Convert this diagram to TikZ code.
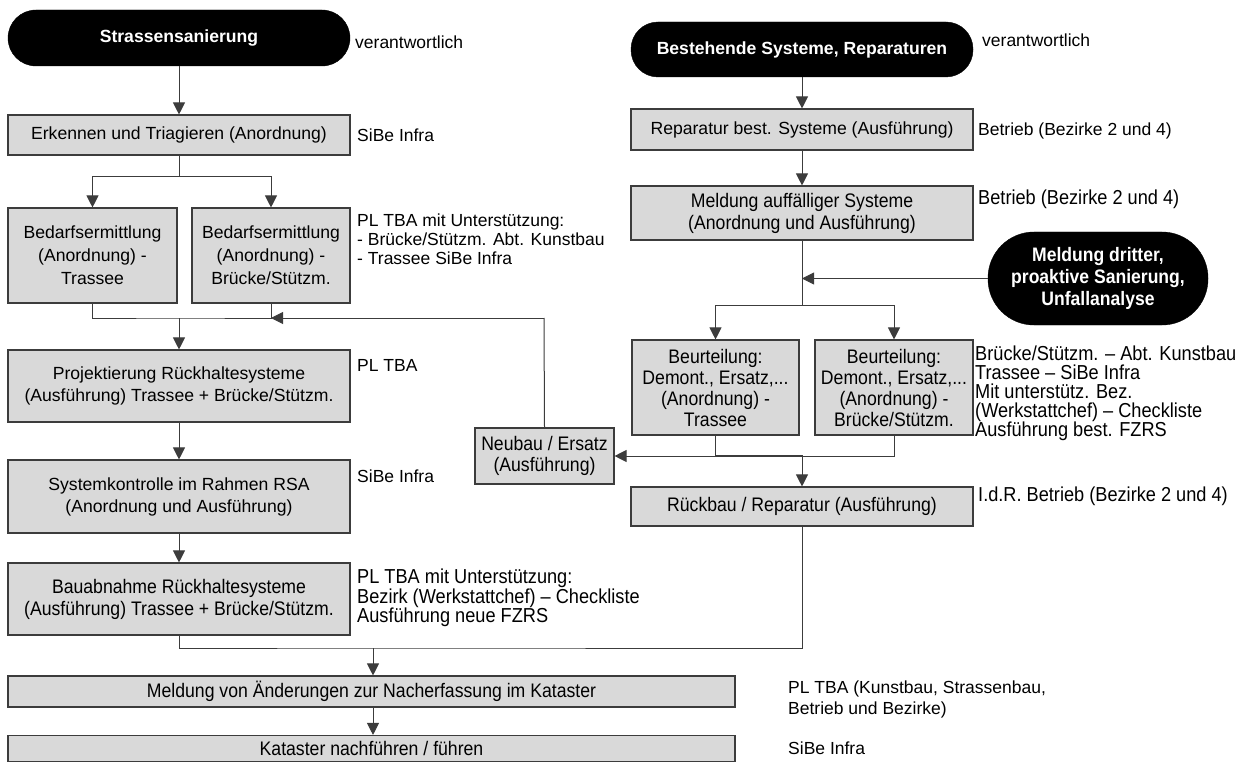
\documentclass[tikz,border=0pt]{standalone}
\usepackage{fontspec}
\setmainfont{Liberation Sans}
\newfontfamily\narrowfont[FakeStretch=0.9]{Liberation Sans}
\usetikzlibrary{arrows.meta}
\definecolor{boxfill}{RGB}{217,217,217}
\definecolor{edge}{RGB}{60,60,60}
\newcommand{\regsize}{\fontsize{17.6}{22}\selectfont}
\newcommand{\narsize}{\narrowfont\fontsize{19.6}{21}\selectfont}
\begin{document}
\begin{tikzpicture}[x=1pt,y=-1pt,
  box/.style={draw=edge, fill=boxfill, line width=1.1pt, inner sep=0pt, align=center, font=\regsize},
  nbox/.style={box, font=\narsize},
  term/.style={fill=black, draw=black, text=white, inner sep=0pt, align=center, font=\regsize\bfseries},
  conn/.style={draw=edge, line width=1pt},
  arr/.style={conn, -{Triangle[length=12pt,width=12pt]}},
  note/.style={anchor=west, align=left, inner sep=0pt, font=\fontsize{17.5}{22}\selectfont},
  nnote/.style={note, font=\narrowfont\fontsize{20.2}{19}\selectfont},
]
\useasboundingbox (0,0) rectangle (1242,762);
% left column
\node[term, rounded corners=28pt, minimum width=342pt, minimum height=56pt] (t1) at (179,38) {Strassensanierung};
\node[box, minimum width=342pt, minimum height=40pt] (b1) at (179,135) {Erkennen und Triagieren (Anordnung)};
\node[box, minimum width=169pt, minimum height=95pt, font=\fontsize{17.6}{23}\selectfont] (b2a) at (92.5,255.5) {Bedarfsermittlung\\(Anordnung) -\\Trassee};
\node[box, minimum width=158pt, minimum height=95pt, font=\fontsize{17.6}{23}\selectfont] (b2b) at (271,255.5) {Bedarfsermittlung\\(Anordnung) -\\Brücke/Stützm.};
\node[box, minimum width=342pt, minimum height=72pt] (b3) at (179,386) {Projektierung Rückhaltesysteme\\(Ausführung) Trassee + Brücke/Stützm.};
\node[box, minimum width=342pt, minimum height=73pt] (b4) at (179,496.5) {Systemkontrolle im Rahmen RSA\\(Anordnung und Ausführung)};
\node[nbox, minimum width=342pt, minimum height=72pt, font=\narrowfont\fontsize{19.6}{22}\selectfont] (b5) at (179,599) {Bauabnahme Rückhaltesysteme\\(Ausführung) Trassee + Brücke/Stützm.};
\node[nbox, minimum width=727pt, minimum height=31pt] (b6) at (371.5,691.5) {Meldung von Änderungen zur Nacherfassung im Kataster};
\node[nbox, minimum width=727pt, minimum height=26pt] (b7) at (371.5,748.5) {Kataster nachführen / führen};
% right column
\node[term, rounded corners=27pt, minimum width=342pt, minimum height=55pt] (t2) at (802,49.5) {Bestehende Systeme, Reparaturen};
\node[box, minimum width=342pt, minimum height=41pt] (r1) at (802,129.5) {Reparatur best. Systeme (Ausführung)};
\node[nbox, minimum width=342pt, minimum height=54pt, font=\narrowfont\fontsize{19.6}{22}\selectfont] (r2) at (802,213) {Meldung auffälliger Systeme\\(Anordnung und Ausführung)};
\node[term, rounded corners=46pt, minimum width=220pt, minimum height=93pt, font=\narrowfont\fontsize{19.5}{22}\selectfont\bfseries] (t3) at (1098,278.5) {Meldung dritter,\\proaktive Sanierung,\\Unfallanalyse};
\node[nbox, minimum width=167pt, minimum height=95pt] (r3a) at (715.5,387.5) {Beurteilung:\\Demont., Ersatz,...\\(Anordnung) -\\Trassee};
\node[nbox, minimum width=158pt, minimum height=95pt] (r3b) at (894,387.5) {Beurteilung:\\Demont., Ersatz,...\\(Anordnung) -\\Brücke/Stützm.};
\node[nbox, minimum width=139pt, minimum height=56pt] (n1) at (544.5,456) {Neubau / Ersatz\\(Ausführung)};
\node[nbox, minimum width=342pt, minimum height=39pt] (r4) at (802,506.5) {Rückbau / Reparatur (Ausführung)};
% notes
\node[note] (v1) at (355,42) {verantwortlich};
\node[note] (v2) at (982,40) {verantwortlich};
\node[note] (s1) at (357,135) {SiBe Infra};
\node[note, anchor=north west, font=\fontsize{17.5}{19}\selectfont] (s2) at (357,214) {PL TBA mit Unterstützung:\\- Brücke/Stützm. Abt. Kunstbau\\- Trassee SiBe Infra};
\node[note] (s3) at (357,365) {PL TBA};
\node[note] (s4) at (357,476) {SiBe Infra};
\node[nnote, anchor=north west, font=\narrowfont\fontsize{20.2}{19.5}\selectfont] (s5) at (357,569) {PL TBA mit Unterstützung:\\Bezirk (Werkstattchef) – Checkliste\\Ausführung neue FZRS};
\node[note, anchor=north west, font=\fontsize{17.5}{21}\selectfont] (s6) at (788,681) {PL TBA (Kunstbau, Strassenbau,\\Betrieb und Bezirke)};
\node[note] (s7) at (788,748) {SiBe Infra};
\node[note] (s8) at (978,131) {Betrieb (Bezirke 2 und 4)};
\node[nnote] (s9) at (978,199) {Betrieb (Bezirke 2 und 4)};
\node[nnote, anchor=north west, font=\narrowfont\fontsize{20.2}{19}\selectfont] (s10) at (975,346) {Brücke/Stützm. – Abt. Kunstbau\\Trassee – SiBe Infra\\Mit unterstütz. Bez.\\(Werkstattchef) – Checkliste\\Ausführung best. FZRS};
\node[nnote] (s11) at (978,496) {I.d.R. Betrieb (Bezirke 2 und 4)};
% junction coordinates
\coordinate (j1) at (179,177);
\coordinate (j2) at (179,318);
\coordinate (j3) at (544,318);
\coordinate (j4) at (373,648);
\coordinate (j5) at (802,305);
\coordinate (j6) at (802,278.5);
\coordinate (j7) at (802,455);
% left connectors
\draw[arr] (t1) -- (b1);
\draw[conn] (b1.south) -- (j1);
\draw[arr] (j1) -| (b2a.north);
\draw[arr] (j1) -| (b2b.north);
\draw[conn] (b2a.south) |- (j2) -| (b2b.south);
\draw[arr] (j2) -- (b3.north);
\draw[arr] (b3) -- (b4);
\draw[arr] (b4) -- (b5);
\draw[conn] (b5.south) |- (j4) -| (r4.south);
\draw[arr] (j4) -- (j4 |- b6.north);
\draw[arr] (j4 |- b6.south) -- (j4 |- b7.north);
% right connectors
\draw[arr] (t2) -- (r1);
\draw[arr] (r1) -- (r2);
\draw[conn] (r2.south) -- (j5);
\draw[arr] (t3.west) -- (j6);
\draw[arr] (j5) -| (r3a.north);
\draw[arr] (j5) -| (r3b.north);
\draw[conn] (r3a.south) |- (j7);
\draw[arr] (r3b.south) |- (n1.east);
\draw[arr] (j7) -- (r4.north);
\draw[conn] (n1.north) -- (j3);
\draw[arr] (j3) -- (b2b.south |- j3);
\end{tikzpicture}
\end{document}
